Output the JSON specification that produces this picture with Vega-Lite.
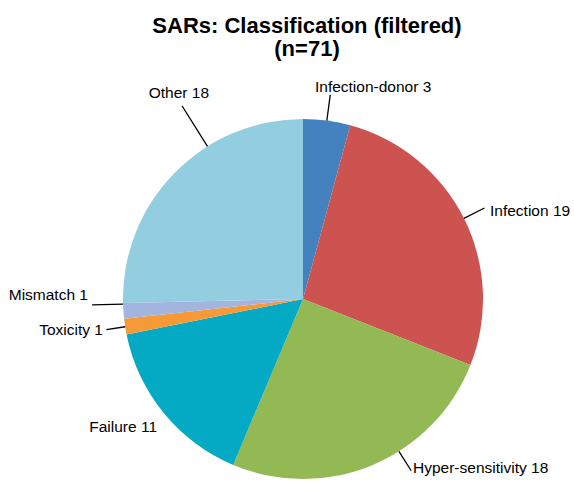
{
  "$schema": "https://vega.github.io/schema/vega-lite/v6.json",
  "autosize": "none",
  "padding": {"left": 32, "top": 114, "right": 0, "bottom": 0},
  "width": 542,
  "height": 370,
  "title": {
    "text": ["SARs: Classification (filtered)", "(n=71)"],
    "font": "Liberation Sans",
    "fontSize": 22,
    "fontWeight": "bold",
    "color": "#000000",
    "lineHeight": 23,
    "anchor": "middle",
    "offset": -41,
    "dx": 4
  },
  "data": {
    "values": [
      {"seq": 1, "cat": "Infection-donor", "value": 3, "label": "Infection-donor 3"},
      {"seq": 2, "cat": "Infection", "value": 19, "label": "Infection 19"},
      {"seq": 3, "cat": "Hyper-sensitivity", "value": 18, "label": "Hyper-sensitivity 18"},
      {"seq": 4, "cat": "Failure", "value": 11, "label": "Failure 11"},
      {"seq": 5, "cat": "Toxicity", "value": 1, "label": "Toxicity 1"},
      {"seq": 6, "cat": "Mismatch", "value": 1, "label": "Mismatch 1"},
      {"seq": 7, "cat": "Other", "value": 18, "label": "Other 18"}
    ]
  },
  "encoding": {
    "theta": {"field": "value", "type": "quantitative", "stack": true},
    "order": {"field": "seq", "type": "quantitative"}
  },
  "layer": [
    {
      "mark": {"type": "arc", "radius": 180},
      "encoding": {
        "color": {
          "field": "cat",
          "type": "nominal",
          "scale": {
            "domain": ["Infection-donor", "Infection", "Hyper-sensitivity", "Failure", "Toxicity", "Mismatch", "Other"],
            "range": ["#4381bf", "#cc5350", "#93b955", "#04a9c4", "#f59a37", "#a3b4de", "#93cee0"]
          },
          "legend": null
        }
      }
    },
    {
      "mark": {"type": "arc", "radius": 206, "radius2": 180, "padAngle": 3, "filled": false, "color": "#000000", "strokeWidth": 1.3},
      "encoding": {"strokeOpacity": {"condition": {"test": "datum.cat === 'Infection-donor'", "value": 1}, "value": 0}}
    },
    {
      "mark": {"type": "arc", "radius": 203, "radius2": 180, "padAngle": 3, "filled": false, "color": "#000000", "strokeWidth": 1.3},
      "encoding": {"strokeOpacity": {"condition": {"test": "datum.cat === 'Infection'", "value": 1}, "value": 0}}
    },
    {
      "mark": {"type": "arc", "radius": 203, "radius2": 180, "padAngle": 3, "thetaOffset": -0.164, "theta2Offset": -0.164, "filled": false, "color": "#000000", "strokeWidth": 1.3},
      "encoding": {"strokeOpacity": {"condition": {"test": "datum.cat === 'Hyper-sensitivity'", "value": 1}, "value": 0}}
    },
    {
      "mark": {"type": "arc", "radius": 199, "radius2": 180, "padAngle": 3, "filled": false, "color": "#000000", "strokeWidth": 1.3},
      "encoding": {"strokeOpacity": {"condition": {"test": "datum.cat === 'Toxicity'", "value": 1}, "value": 0}}
    },
    {
      "mark": {"type": "arc", "radius": 211, "radius2": 180, "padAngle": 3, "thetaOffset": 0.0384, "theta2Offset": 0.0384, "filled": false, "color": "#000000", "strokeWidth": 1.3},
      "encoding": {"strokeOpacity": {"condition": {"test": "datum.cat === 'Mismatch'", "value": 1}, "value": 0}}
    },
    {
      "mark": {"type": "arc", "radius": 228, "radius2": 180, "padAngle": 3, "thetaOffset": 0.237, "theta2Offset": 0.237, "filled": false, "color": "#000000", "strokeWidth": 1.3},
      "encoding": {"strokeOpacity": {"condition": {"test": "datum.cat === 'Other'", "value": 1}, "value": 0}}
    },
    {
      "mark": {"type": "text", "radius": 206, "align": "left", "baseline": "alphabetic", "dx": -15.3, "dy": -2.8, "font": "Liberation Sans", "fontSize": 15.5, "color": "#000000"},
      "encoding": {"text": {"condition": {"test": "datum.cat === 'Infection-donor'", "field": "label"}, "value": ""}}
    },
    {
      "mark": {"type": "text", "radius": 203, "align": "left", "baseline": "alphabetic", "dx": 5.5, "dy": 8, "font": "Liberation Sans", "fontSize": 15.5, "color": "#000000"},
      "encoding": {"text": {"condition": {"test": "datum.cat === 'Infection'", "field": "label"}, "value": ""}}
    },
    {
      "mark": {"type": "text", "radius": 203, "align": "left", "baseline": "alphabetic", "dx": 31.3, "dy": -13.1, "font": "Liberation Sans", "fontSize": 15.5, "color": "#000000"},
      "encoding": {"text": {"condition": {"test": "datum.cat === 'Hyper-sensitivity'", "field": "label"}, "value": ""}}
    },
    {
      "mark": {"type": "text", "radius": 200, "align": "right", "baseline": "alphabetic", "dx": 8.8, "dy": 6.3, "font": "Liberation Sans", "fontSize": 15.5, "color": "#000000"},
      "encoding": {"text": {"condition": {"test": "datum.cat === 'Failure'", "field": "label"}, "value": ""}}
    },
    {
      "mark": {"type": "text", "radius": 199, "align": "right", "baseline": "alphabetic", "dx": -3.4, "dy": 5.3, "font": "Liberation Sans", "fontSize": 15.5, "color": "#000000"},
      "encoding": {"text": {"condition": {"test": "datum.cat === 'Toxicity'", "field": "label"}, "value": ""}}
    },
    {
      "mark": {"type": "text", "radius": 211, "align": "right", "baseline": "alphabetic", "dx": -4.5, "dy": -13, "font": "Liberation Sans", "fontSize": 15.5, "color": "#000000"},
      "encoding": {"text": {"condition": {"test": "datum.cat === 'Mismatch'", "field": "label"}, "value": ""}}
    },
    {
      "mark": {"type": "text", "radius": 228, "align": "center", "baseline": "alphabetic", "dx": 38.9, "dy": -41.5, "font": "Liberation Sans", "fontSize": 15.5, "color": "#000000"},
      "encoding": {"text": {"condition": {"test": "datum.cat === 'Other'", "field": "label"}, "value": ""}}
    }
  ],
  "config": {"view": {"stroke": null}}
}
